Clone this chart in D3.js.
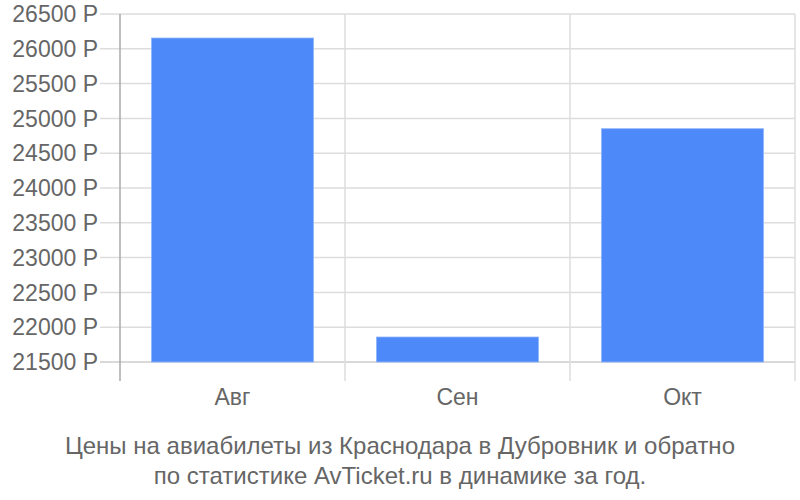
<!DOCTYPE html>
<html>
<head>
<meta charset="utf-8">
<script src="https://cdn.jsdelivr.net/npm/d3@7"></script>
<style>
  body { margin: 0; background: #fff; }
  svg text { font-family: "Liberation Sans", Arial, sans-serif; fill: #666; }
</style>
</head>
<body>
<script>
var months = ["Авг", "Сен", "Окт"];
var prices = [26155, 21859, 24852];
var yTicks = [21500, 22000, 22500, 23000, 23500, 24000, 24500, 25000, 25500, 26000, 26500];
var titleLines = ["Цены на авиабилеты из Краснодара в Дубровник и обратно",
                  "по статистике AvTicket.ru в динамике за год."];

var width = 800, height = 500;
var plotLeft = 120, plotRight = 795, plotTop = 14, plotBottom = 362;

var svg = d3.select("body").append("svg")
    .attr("width", width)
    .attr("height", height);

var x = d3.scaleBand()
    .domain(months)
    .range([plotLeft, plotRight])
    .paddingInner(0.28)
    .paddingOuter(0.14);

var xb = d3.scaleBand().domain(months).range([plotLeft, plotRight]);

var y = d3.scaleLinear()
    .domain([21500, 26500])
    .range([plotBottom, plotTop]);

// horizontal grid
svg.append("g").selectAll("line")
    .data(yTicks)
    .enter().append("line")
    .attr("x1", 100).attr("x2", plotRight)
    .attr("y1", function(d) { return y(d); })
    .attr("y2", function(d) { return y(d); })
    .attr("stroke", function(d) { return d == 21500 ? "#ccc" : "#ddd"; })
    .attr("stroke-width", 1.5);

// vertical grid at band edges
var edges = months.map(function(m) { return xb(m) + xb.bandwidth(); });
svg.append("g").selectAll("line")
    .data(edges)
    .enter().append("line")
    .attr("x1", function(d) { return d; }).attr("x2", function(d) { return d; })
    .attr("y1", plotTop).attr("y2", 381)
    .attr("stroke", "#ddd")
    .attr("stroke-width", 1.5);

// left axis line
svg.append("line")
    .attr("x1", plotLeft).attr("x2", plotLeft)
    .attr("y1", plotTop).attr("y2", 381)
    .attr("stroke", "#aaa")
    .attr("stroke-width", 1.5);

// y labels
svg.append("g").selectAll("text")
    .data(yTicks)
    .enter().append("text")
    .attr("x", 98)
    .attr("y", function(d) { return y(d); })
    .attr("dy", "0.36em")
    .attr("text-anchor", "end")
    .style("font-size", "23px")
    .text(function(d) { return d + " Р"; });

// bars
svg.append("g").selectAll("rect")
    .data(prices)
    .enter().append("rect")
    .attr("x", function(d, i) { return x(months[i]); })
    .attr("y", function(d) { return y(d); })
    .attr("width", x.bandwidth())
    .attr("height", function(d) { return plotBottom - y(d); })
    .attr("fill", "#4d89f9")
    .attr("stroke", "#8fb4fb")
    .attr("stroke-width", 0.8);

// x labels
svg.append("g").selectAll("text")
    .data(months)
    .enter().append("text")
    .attr("x", function(d) { return xb(d) + xb.bandwidth() / 2; })
    .attr("y", 405)
    .attr("text-anchor", "middle")
    .style("font-size", "23px")
    .text(function(d) { return d; });

// title
svg.append("g").selectAll("text")
    .data(titleLines)
    .enter().append("text")
    .attr("x", 400)
    .attr("y", function(d, i) { return 454 + i * 30; })
    .attr("text-anchor", "middle")
    .style("font-size", "24px")
    .text(function(d) { return d; });
</script>
</body>
</html>
